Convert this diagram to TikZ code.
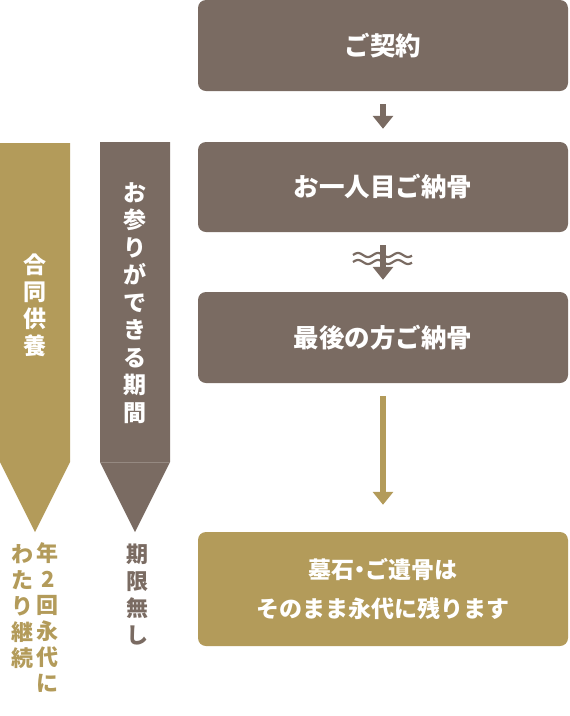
\documentclass[tikz,border=0pt]{standalone}
\usepackage{fontspec}
\setmainfont{Noto Sans CJK JP}
\usetikzlibrary{arrows.meta}
\definecolor{stone}{HTML}{7A6B62}
\definecolor{gold}{HTML}{B39B5A}
\tikzset{
  stepbox/.style={fill=stone, rounded corners=8pt, minimum width=370pt, minimum height=90pt,
    text=white, align=center, inner sep=0pt, font=\fontsize{25.5}{39}\selectfont\bfseries},
  flow/.style={draw=stone, line width=6pt, -{Triangle[width=20pt,length=13pt]}},
  tate/.style={align=center, inner sep=0pt, font=\fontsize{23}{27.5}\selectfont\bfseries},
}
\begin{document}
\begin{tikzpicture}[x=1pt,y=-1pt]
\useasboundingbox (0,0) rectangle (570,716);
% flow boxes
\node[stepbox, minimum height=91pt] (contract) at (383,45.5) {ご契約};
\node[stepbox] (firstrest) at (383,187) {お一人目ご納骨};
\node[stepbox, minimum height=91pt] (lastrest) at (383,337.5) {最後の方ご納骨};
\node[stepbox, fill=gold, minimum height=114pt, font=\fontsize{23}{39}\selectfont\bfseries] (forever) at (383,589)
  {墓石\kern-6pt・\kern-6ptご遺骨は\\そのまま永代に残ります};
% arrows
\draw[flow, shorten <=13pt, shorten >=13pt] (contract.south) -- (firstrest.north);
\draw[flow, shorten <=13pt, shorten >=12pt] (firstrest.south) -- (lastrest.north);
\foreach \dy in {255,262}
  \draw[stone, line width=2.2pt] plot[domain=353:412, samples=80, smooth] (\x, {\dy-2*sin((\x-353)*18)});
\draw[flow, draw=gold, shorten <=13pt, shorten >=27pt] (lastrest.south) -- (forever.north);
% banners
\fill[gold] (0,143) -- (70,143) -- (70,462) -- (35,532) -- (0,462) -- cycle;
\fill[stone] (100,142) -- (170,142) -- (170,462) -- (135,532) -- (100,462) -- cycle;
\draw[stone!80!white, line width=0.6pt] (100,462) -- (170,462);
\node[tate, text=white, font=\fontsize{23}{27}\selectfont\bfseries] (joint) at (35,305) {合\\同\\供\\養};
\node[tate, text=white] (visit) at (135,303) {お\\参\\り\\が\\で\\き\\る\\期\\間};
% notes below
\node[tate, text=stone, font=\fontsize{22}{27}\selectfont\bfseries] (nolimit) at (137,595) {期\\限\\無\\し};
\node[tate, text=gold, font=\fontsize{22}{26}\selectfont\bfseries] (twice) at (48,618) {年\\2\\回\\永\\代\\に};
\node[tate, text=gold, font=\fontsize{22}{26}\selectfont\bfseries] (cont) at (22,607) {わ\\た\\り\\継\\続};
\end{tikzpicture}
\end{document}
